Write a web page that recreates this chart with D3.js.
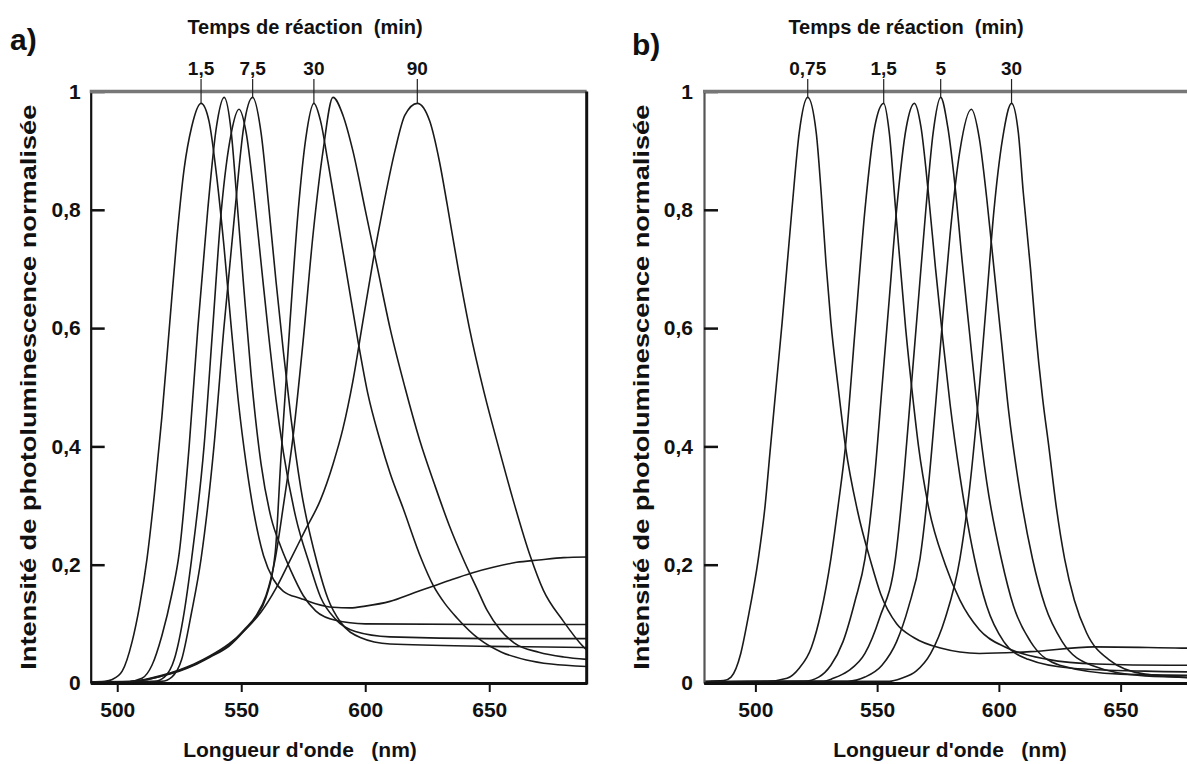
<!DOCTYPE html>
<html><head><meta charset="utf-8">
<script src="https://cdn.jsdelivr.net/npm/d3@7"></script>
<style>
body{margin:0;background:#fff}
svg{display:block;background:#fff}
text{font-family:"Liberation Sans",Arial,Helvetica,sans-serif;font-weight:bold;fill:#111;white-space:pre}
</style>
</head><body>
<svg id="c" width="1187" height="764"></svg>
<script>
// ---------- shared ticks / labels ----------
const yTicks = [0, 0.2, 0.4, 0.6, 0.8, 1];
const yTickLabels = ["0", "0,2", "0,4", "0,6", "0,8", "1"];
const xTicks = [500, 550, 600, 650];
const topTitle = "Temps de réaction  (min)";
const xTitle = "Longueur d'onde   (nm)";
const yTitle = "Intensité de photoluminescence normalisée";

// ---------- panel a : [wavelength nm, normalised intensity] ----------
const peakLabelsA = ["1,5", "7,5", "30", "90"];
const peakPosA = [533.8, 554.6, 579.3, 621];
const peakValA = [0.98, 0.99, 0.98, 0.98];

const a1 = [[489.3,0.002],[495,0.003],[498,0.006],[502,0.02],[506,0.07],[509,0.13],[512,0.21],[515,0.32],[518,0.45],[521,0.6],[524,0.75],[527,0.87],[530,0.94],[533.8,0.98],[537,0.95],[540,0.86],[543,0.74],[546,0.6],[549,0.47],[552,0.37],[555,0.29],[559,0.215],[563,0.175],[567,0.155],[574,0.143],[580,0.134],[587,0.128],[594,0.127],[600,0.13],[610,0.138],[620,0.153],[627,0.163],[635,0.175],[643,0.186],[652,0.196],[661,0.204],[670,0.208],[680,0.212],[689.3,0.213]];
const a2 = [[489.3,0.002],[505,0.003],[510,0.008],[514,0.03],[518,0.08],[522,0.15],[525,0.22],[529,0.4],[532.5,0.6],[536.5,0.8],[540,0.94],[543.1,0.99],[546,0.93],[548,0.83],[551,0.67],[554,0.52],[558,0.37],[562,0.28],[566,0.23],[570,0.19],[575,0.148],[580,0.122],[588,0.106],[600,0.1],[650,0.099],[689.3,0.099]];
const a3 = [[489.3,0.001],[515,0.003],[519,0.01],[523,0.04],[527,0.12],[530,0.21],[535,0.4],[538.5,0.6],[542,0.8],[546,0.93],[549.1,0.97],[552,0.93],[555,0.83],[558,0.71],[561,0.59],[564,0.48],[567,0.39],[572,0.28],[577.6,0.2],[582,0.145],[588,0.108],[596,0.087],[610,0.078],[650,0.075],[689.3,0.075]];
const a4 = [[489.3,0.001],[518,0.003],[522,0.01],[526,0.04],[530,0.12],[533.8,0.21],[539,0.4],[543,0.6],[547.5,0.8],[551,0.94],[554.6,0.99],[558,0.93],[561,0.81],[564,0.68],[567,0.56],[570,0.45],[574,0.33],[580.8,0.2],[585,0.142],[590,0.103],[598,0.077],[610,0.066],[650,0.062],[689.3,0.06]];
const a5 = [[489.3,0.001],[505,0.002],[511,0.005],[518,0.012],[525,0.02],[531,0.03],[537.5,0.044],[545,0.062],[551.6,0.09],[556,0.112],[560,0.145],[563.7,0.22],[566,0.38],[569.5,0.6],[573,0.8],[576,0.92],[579.3,0.98],[582,0.95],[585,0.88],[589,0.78],[593,0.68],[597,0.58],[601,0.49],[606,0.41],[610,0.355],[615.3,0.295],[622.6,0.21],[627.4,0.165],[632,0.135],[637,0.11],[646,0.074],[655,0.052],[665,0.039],[675,0.032],[689.3,0.028]];
const a6 = [[489.3,0.001],[505,0.002],[511,0.005],[518,0.012],[525,0.021],[531,0.031],[537.5,0.045],[545,0.064],[551.6,0.092],[556,0.114],[560,0.148],[563.7,0.21],[567,0.3],[571,0.42],[575,0.58],[579,0.76],[583,0.9],[587,0.99],[591,0.96],[595,0.9],[600,0.8],[605,0.7],[610,0.6],[616,0.5],[622,0.41],[628,0.335],[634,0.265],[640,0.205],[645,0.16],[649.1,0.123],[654.4,0.09],[660,0.068],[670,0.052],[680,0.044],[689.3,0.04]];
const a7 = [[489.3,0.001],[505,0.002],[511,0.006],[518,0.013],[525,0.022],[531,0.032],[537.5,0.046],[545,0.066],[551.6,0.09],[558,0.12],[564,0.16],[570,0.21],[576,0.26],[582,0.31],[587,0.37],[591,0.43],[595,0.51],[599,0.61],[603,0.71],[607,0.8],[612,0.9],[616,0.96],[621,0.98],[626,0.95],[630,0.88],[633,0.81],[637.5,0.7],[642,0.6],[648,0.49],[654,0.395],[659.6,0.31],[666.5,0.215],[671.8,0.157],[679.8,0.105],[687.8,0.062],[689.3,0.056]];

// ---------- panel b ----------
const peakLabelsB = ["0,75", "1,5", "5", "30"];
const peakPosB = [521.5, 552.7, 576.1, 605.2];
const peakValB = [0.99, 0.98, 0.99, 0.98];

const b1 = [[479,0.003],[487,0.004],[490,0.01],[494,0.05],[497,0.11],[501.2,0.21],[504,0.3],[506,0.39],[508.5,0.5],[511,0.61],[515,0.8],[518,0.93],[521.5,0.99],[525,0.93],[527,0.83],[529,0.71],[531,0.61],[534,0.5],[537,0.4],[542,0.29],[547.4,0.205],[551.5,0.15],[558,0.1],[565,0.077],[576,0.059],[592,0.05],[613,0.053],[639,0.061],[675,0.059],[700,0.058]];
const b2 = [[479,0.002],[505,0.003],[513,0.008],[518,0.025],[523,0.06],[527,0.12],[531,0.21],[534,0.3],[537,0.4],[541,0.6],[545,0.8],[549,0.94],[552.7,0.98],[555,0.93],[557.6,0.8],[561.7,0.6],[565,0.47],[567,0.4],[571,0.3],[578,0.2],[584,0.14],[592,0.09],[603,0.06],[620,0.04],[640,0.032],[670,0.03],[700,0.03]];
const b3 = [[479,0.002],[520,0.003],[526,0.01],[531,0.03],[536,0.07],[541,0.14],[545,0.21],[549,0.35],[552,0.5],[555,0.65],[558,0.8],[562,0.94],[565.3,0.98],[568,0.94],[571,0.83],[574,0.7],[577,0.58],[580,0.47],[584,0.35],[590,0.21],[595,0.13],[602,0.07],[612,0.04],[630,0.025],[660,0.02],[700,0.018]];
const b4 = [[479,0.002],[528,0.003],[532,0.008],[538,0.02],[545,0.05],[551,0.11],[557.5,0.21],[561,0.35],[564,0.5],[567,0.65],[570,0.8],[573,0.93],[576.1,0.99],[579,0.94],[582,0.84],[585,0.71],[588,0.59],[591,0.47],[595,0.34],[601,0.21],[606,0.13],[613,0.07],[625,0.03],[650,0.015],[700,0.012]];
const b5 = [[479,0.002],[538,0.003],[545,0.01],[552,0.03],[558,0.07],[563,0.13],[567.6,0.21],[571,0.33],[574,0.47],[577,0.62],[580,0.76],[584,0.9],[588.7,0.97],[592,0.92],[595,0.82],[598,0.7],[601,0.58],[604,0.46],[608,0.34],[613.8,0.21],[619,0.13],[626,0.07],[638,0.03],[660,0.012],[700,0.008]];
const b6 = [[479,0.002],[555,0.003],[560,0.008],[566,0.02],[572,0.05],[578,0.11],[584,0.21],[588,0.33],[592,0.5],[595,0.65],[598,0.8],[601.5,0.92],[605.2,0.98],[608,0.93],[610,0.83],[613,0.7],[615,0.6],[618,0.48],[620.5,0.4],[623.5,0.3],[627,0.21],[631,0.14],[636,0.085],[645,0.04],[660,0.015],[700,0.005]];

// ---------- drawing ----------
const W = 1187, H = 764;
const svg = d3.select("#c");
const Y0 = 683, Y1 = 91.5;

const panels = [
  {id:"a", letter:"a)", letterX:10, letterY:50, curves:[a1,a2,a3,a4,a5,a6,a7],
   xDomain:[489.3,689.3], xRange:[90.7,586.7], rightBorder:true, leftColor:"#111",
   titleX:305, xTitleX:300, yTitleX:28, tickLabelX:-10,
   peakLabels:peakLabelsA, peakPos:peakPosA, peakVal:peakValA},
  {id:"b", letter:"b)", letterX:632, letterY:55, curves:[b1,b2,b3,b4,b5,b6],
   xDomain:[478.9,700], xRange:[704,704+221.1*2.435], rightBorder:false, leftColor:"#555",
   titleX:906, xTitleX:950, yTitleX:641, tickLabelX:-11,
   peakLabels:peakLabelsB, peakPos:peakPosB, peakVal:peakValB}
];

panels.forEach(p => {
  const x = d3.scaleLinear().domain(p.xDomain).range(p.xRange);
  const y = d3.scaleLinear().domain([0,1]).range([Y0, Y1]);
  const g = svg.append("g");
  const right = Math.min(p.xRange[1], W);

  svg.append("clipPath").attr("id","clip"+p.id)
    .append("rect").attr("x",p.xRange[0]).attr("y",Y1-2)
    .attr("width",right-p.xRange[0]).attr("height",Y0-Y1+2);

  const line = d3.line().x(d=>x(d[0])).y(d=>y(d[1])).curve(d3.curveMonotoneX);
  g.append("g").attr("clip-path","url(#clip"+p.id+")")
    .selectAll("path").data(p.curves).join("path")
    .attr("d", line).attr("fill","none").attr("stroke","#1a1a1a")
    .attr("stroke-width",1.6).attr("stroke-linejoin","round");

  // x axis
  const xAxis = d3.axisBottom(x).tickValues(xTicks).tickSize(9).tickSizeOuter(0).tickPadding(10).tickFormat(d3.format("d"));
  const gx = g.append("g").attr("transform",`translate(0,${Y0})`).call(xAxis);
  gx.select(".domain").attr("stroke","#111").attr("stroke-width",3);
  gx.selectAll(".tick line").attr("stroke","#111").attr("stroke-width",2);
  gx.selectAll(".tick text").attr("font-size",21).attr("font-weight","bold").attr("fill","#111");

  // y axis (ticks pointing inward)
  const yAxis = d3.axisLeft(y).tickValues(yTicks).tickSize(-14).tickSizeOuter(0).tickPadding(-p.tickLabelX)
    .tickFormat((d,i)=>yTickLabels[i]);
  const gy = g.append("g").attr("transform",`translate(${p.xRange[0]},0)`).call(yAxis);
  gy.select(".domain").attr("stroke",p.leftColor).attr("stroke-width",2.2);
  gy.selectAll(".tick line").attr("stroke","#111").attr("stroke-width",2.5);
  gy.selectAll(".tick text").attr("font-size",21).attr("font-weight","bold").attr("fill","#111");

  // top border (grey) and right border
  g.append("line").attr("x1",p.xRange[0]-1).attr("x2",right).attr("y1",y(1)).attr("y2",y(1))
    .attr("stroke","#777").attr("stroke-width",3.5);
  if (p.rightBorder) {
    g.append("line").attr("x1",p.xRange[1]).attr("x2",p.xRange[1]).attr("y1",y(1)).attr("y2",Y0+1.5)
      .attr("stroke","#111").attr("stroke-width",3);
  }

  // peak labels with leader lines
  p.peakLabels.forEach((lab,i) => {
    const px = x(p.peakPos[i]);
    g.append("text").attr("x",px).attr("y",75).attr("text-anchor","middle")
      .attr("font-size",19).text(lab);
    g.append("line").attr("x1",px).attr("x2",px).attr("y1",79).attr("y2",y(p.peakVal[i]))
      .attr("stroke","#222").attr("stroke-width",1.2);
  });

  // titles
  g.append("text").attr("x",p.titleX).attr("y",34).attr("text-anchor","middle")
    .attr("font-size",20).text(topTitle);
  g.append("text").attr("x",p.xTitleX).attr("y",757).attr("text-anchor","middle")
    .attr("font-size",21).text(xTitle);
  g.append("text").attr("transform",`translate(${p.yTitleX},${(Y0+Y1)/2}) rotate(-90)`)
    .attr("text-anchor","middle").attr("dominant-baseline","central")
    .attr("font-size",22).attr("textLength",565).attr("lengthAdjust","spacingAndGlyphs")
    .text(yTitle);
  g.append("text").attr("x",p.letterX).attr("y",p.letterY).attr("font-size",30).text(p.letter);
});
</script>
</body></html>
